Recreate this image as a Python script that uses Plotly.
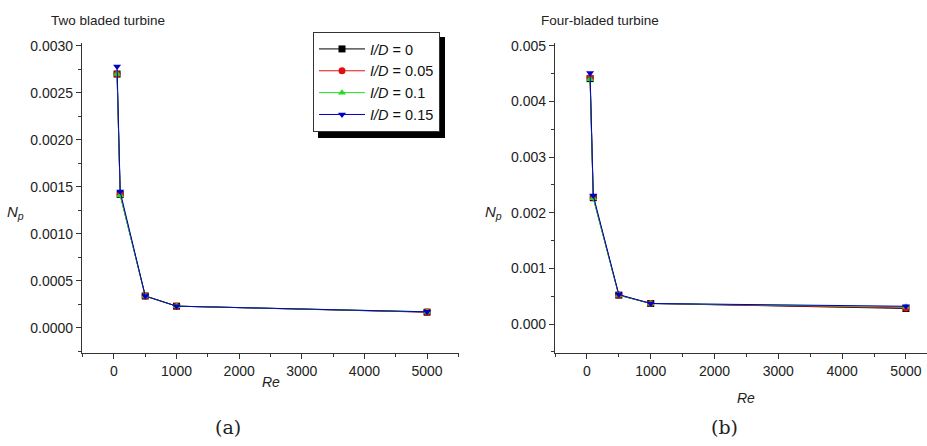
import plotly.graph_objects as go

re_vals = [50, 100, 500, 1000, 5000]
series_names = ["<i>I/D</i> = 0", "<i>I/D</i> = 0.05", "<i>I/D</i> = 0.1", "<i>I/D</i> = 0.15"]
two_blade = [
    [0.00270, 0.00142, 0.00034, 0.000232, 0.000168],
    [0.00270, 0.00142, 0.00034, 0.000232, 0.000170],
    [0.00270, 0.00141, 0.00034, 0.000232, 0.000172],
    [0.00278, 0.00145, 0.00034, 0.000232, 0.000172],
]
four_blade = [
    [0.00441, 0.00227, 0.00052, 0.00037, 0.00028],
    [0.00443, 0.00228, 0.00052, 0.00037, 0.00029],
    [0.00440, 0.00226, 0.00052, 0.00037, 0.00031],
    [0.00451, 0.00231, 0.00053, 0.00037, 0.00032],
]
colors = ["#000000", "#e01010", "#22dd22", "#0000c8"]
symbols = ["square", "circle", "triangle-up", "triangle-down"]

W, H = 927, 446
fig = go.Figure()

for i in range(4):
    fig.add_trace(go.Scatter(x=re_vals, y=two_blade[i], mode="lines+markers", name=series_names[i],
                             line=dict(color=colors[i], width=1),
                             marker=dict(symbol=symbols[i], size=7, color=colors[i]),
                             xaxis="x", yaxis="y", showlegend=True))
for i in range(4):
    fig.add_trace(go.Scatter(x=re_vals, y=four_blade[i], mode="lines+markers", name=series_names[i],
                             line=dict(color=colors[i], width=1),
                             marker=dict(symbol=symbols[i], size=7, color=colors[i]),
                             xaxis="x2", yaxis="y2", showlegend=False))

ydom = [1 - 353 / H, 1 - 43 / H]
axcommon = dict(showgrid=False, zeroline=False, showline=True, linecolor="#333", linewidth=1.3,
                ticks="outside", ticklen=5, tickcolor="#333", tickwidth=1.2, automargin=False,
                tickfont=dict(family="Liberation Sans, Arial", size=14, color="#222"))

fig.update_layout(
    width=W, height=H, margin=dict(l=0, r=0, t=0, b=0),
    paper_bgcolor="white", plot_bgcolor="white",
    xaxis=dict(domain=[82 / W, 459 / W], range=[-510, 5510], anchor="y", tickvals=[0, 1000, 2000, 3000, 4000, 5000],
               minor=dict(tickvals=[-500, 500, 1500, 2500, 3500, 4500, 5500], ticks="outside", ticklen=3, tickcolor="#333"),
               **axcommon),
    yaxis=dict(domain=ydom, range=[-0.000266, 0.00303], anchor="x", dtick=0.0005, tickformat=".4f",
               minor=dict(dtick=0.00025, ticks="outside", ticklen=3, tickcolor="#333"), **axcommon),
    xaxis2=dict(domain=[555 / W, 1.0], range=[-500, 5330], anchor="y2", tickvals=[0, 1000, 2000, 3000, 4000, 5000],
                minor=dict(tickvals=[-500, 500, 1500, 2500, 3500, 4500], ticks="outside", ticklen=3, tickcolor="#333"),
                **axcommon),
    yaxis2=dict(domain=ydom, range=[-0.00052, 0.00505], anchor="x2", dtick=0.001, tickformat=".3f",
                minor=dict(dtick=0.0005, ticks="outside", ticklen=3, tickcolor="#333"), **axcommon),
    legend=dict(x=313 / W, y=1 - 32 / H, xanchor="left", yanchor="top", bgcolor="white",
                bordercolor="#333", borderwidth=1, itemwidth=46, tracegroupgap=0,
                font=dict(family="Liberation Sans, Arial", size=14.5, color="#111")),
    showlegend=True,
)

# legend drop shadow
fig.add_shape(type="rect", xref="paper", yref="paper", x0=318 / W, x1=445 / W, y0=1 - 138 / H, y1=1 - 37 / H,
              fillcolor="black", line=dict(width=0), layer="above")

ann = [
    dict(x=167 / W, y=1 - 20 / H, text="Two bladed turbine", font=dict(size=13.5), xanchor="right"),
    dict(x=539 / W, y=1 - 20 / H, text="Four-bladed turbine", font=dict(size=13.5), xanchor="left"),
    dict(x=16 / W, y=1 - 213 / H, text="<i>N<sub>p</sub></i>", font=dict(size=15)),
    dict(x=493 / W, y=1 - 213 / H, text="<i>N<sub>p</sub></i>", font=dict(size=15)),
    dict(x=271 / W, y=1 - 382 / H, text="<i>Re</i>", font=dict(size=14)),
    dict(x=746 / W, y=1 - 398 / H, text="<i>Re</i>", font=dict(size=14)),
    dict(x=228 / W, y=1 - 427 / H, text="(a)", font=dict(size=19, family="DejaVu Serif, Liberation Serif")),
    dict(x=724 / W, y=1 - 427 / H, text="(b)", font=dict(size=19, family="DejaVu Serif, Liberation Serif")),
]
for a in ann:
    f = dict(family="Liberation Sans, Arial", color="#222")
    f.update(a["font"])
    fig.add_annotation(x=a["x"], y=a["y"], xref="paper", yref="paper", text=a["text"], showarrow=False,
                       font=f, xanchor=a.get("xanchor", "center"), yanchor="middle")

fig.write_html("out.html", config={"displayModeBar": False},
               post_script="document.body.style.margin='0';document.body.style.overflow='hidden';")
